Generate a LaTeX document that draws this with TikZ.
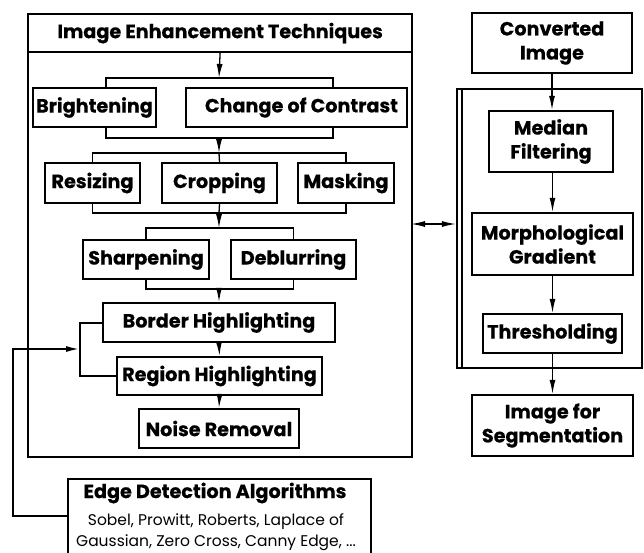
\documentclass[tikz,border=0pt]{standalone}
\usepackage{fontspec}
\setmainfont{Poppins}[BoldFeatures={FakeBold=0.4}]
\usetikzlibrary{arrows.meta}
\tikzset{
  bx/.style={draw, line width=2.2pt, rectangle, inner sep=0pt, align=center, font=\bfseries\fontsize{19.2}{24}\selectfont},
  ln/.style={line width=1.3pt},
  thk/.style={line width=2pt},
  arr/.style={-{Latex[length=14pt,width=6pt]}},
  dbl/.style={{Latex[length=14pt,width=6pt]}-{Latex[length=14pt,width=6pt]}},
}
\begin{document}
\begin{tikzpicture}[x=1pt,y=-1pt]
\clip (0,0) rectangle (644,552);
\fill[white] (0,0) rectangle (644,552);
% left big box
\node[draw, line width=2.2pt, minimum width=384pt, minimum height=443pt, anchor=north west, inner sep=0pt] (enh) at (27,13) {};
\node[bx, minimum width=384pt, minimum height=38pt, anchor=north west] (title) at (27,13) {Image Enhancement Techniques};
% rows
\node[bx, minimum width=123pt, minimum height=39pt] (bri) at (94.5,107.5) {Brightening};
\node[bx, minimum width=221pt, minimum height=39pt] (coc) at (296.5,107.5) {\hspace*{10pt}Change of Contrast};
\node[bx, minimum width=95pt, minimum height=40pt] (res) at (92.5,183) {Resizing};
\node[bx, minimum width=115pt, minimum height=40pt] (cro) at (219.5,183) {Cropping};
\node[bx, minimum width=96pt, minimum height=40pt] (mas) at (346,183) {Masking};
\node[bx, minimum width=126pt, minimum height=39pt] (sha) at (146,259.5) {Sharpening};
\node[bx, minimum width=125pt, minimum height=39pt] (deb) at (293.5,259.5) {Deblurring};
\node[bx, minimum width=232pt, minimum height=39pt] (bor) at (219,322.5) {Border Highlighting};
\node[bx, minimum width=205pt, minimum height=38pt] (reg) at (219.5,376) {Region Highlighting};
\node[bx, minimum width=160pt, minimum height=39pt] (noi) at (219,428.5) {Noise Removal};
% junctions
\coordinate (j1) at (219,78);
\coordinate (j2) at (219,138);
\coordinate (j3) at (219,153);
\coordinate (j4) at (219,213);
\coordinate (j5) at (219,228);
\coordinate (j6) at (219,289);
\draw[ln,arr] (title.south) -- (j1);
\draw[ln] ([xshift=11.5pt]bri.north) |- (j1) -| ([xshift=36.5pt]coc.north);
\draw[ln] ([xshift=11.5pt]bri.south) |- (j2) -| ([xshift=36.5pt]coc.south);
\draw[ln,arr] (j2) -- (j3);
\draw[ln] (res.north) |- (j3) -| (mas.north);
\draw[ln] (j3) -- (cro.north);
\draw[ln] (res.south) |- (j4) -| (mas.south);
\draw[ln] (cro.south) -- (j4);
\draw[ln,arr] (j4) -- (j5);
\draw[ln] (sha.north) |- (j5) -| (deb.north);
\draw[ln] (sha.south) |- (j6) -| (deb.south);
\draw[ln,arr] (j6) -- (bor.north);
\draw[ln,arr] (bor.south) -- (reg.north);
\draw[ln,arr] (reg.south) -- (noi.north);
% left bracket
\coordinate (lb) at (80,349);
\draw[thk] (bor.west) -| (lb) |- (reg.west);
% edge detection box
\node[draw, line width=2.2pt, minimum width=303pt, minimum height=101pt, inner sep=0pt] (edge) at (219.5,529.5) {};
\node[font=\bfseries\fontsize{19.2}{24}\selectfont, inner sep=0pt] (edget) at (215,493) {Edge Detection Algorithms};
\node[font=\fontsize{15.5}{20.5}\selectfont, align=center, inner sep=0pt] (edgeb) at (216,532) {Sobel, Prowitt, Roberts, Laplace of\\Gaussian, Zero Cross, Canny Edge, ...};
\coordinate (ec) at (13,349);
\draw[thk,arr] ([yshift=13.5pt]edge.west) -| (ec) -- (lb);
% right side
\node[bx, minimum width=160pt, minimum height=60pt] (conv) at (552,43) {Converted\\Image};
\node[draw, line width=2.2pt, minimum width=185pt, minimum height=279pt, inner sep=0pt] (frame) at (549.5,228.5) {};
\draw[line width=2.2pt] ([xshift=6pt]frame.north west) -- ([xshift=6pt]frame.south west);
\node[bx, minimum width=124pt, minimum height=61pt] (med) at (551,141.5) {Median\\Filtering};
\node[bx, minimum width=161pt, minimum height=62pt] (mor) at (552.5,244) {Morphological\\Gradient};
\node[bx, minimum width=139pt, minimum height=39pt] (thr) at (552.5,333.5) {Thresholding};
\node[bx, minimum width=161pt, minimum height=61pt] (seg) at (552.5,425.5) {Image for\\Segmentation};
\draw[ln,arr] (conv.south) -- (conv.south |- med.north);
\draw[ln,arr] (med.south -| mor.north) -- (mor.north);
\draw[ln,arr] (mor.south) -- (mor.south |- thr.north);
\draw[ln,arr] (thr.south) -- (seg.north);
% double arrow
\coordinate (da) at (411,224);
\draw[ln,dbl] (da) -- (frame.west |- da);
\end{tikzpicture}
\end{document}
